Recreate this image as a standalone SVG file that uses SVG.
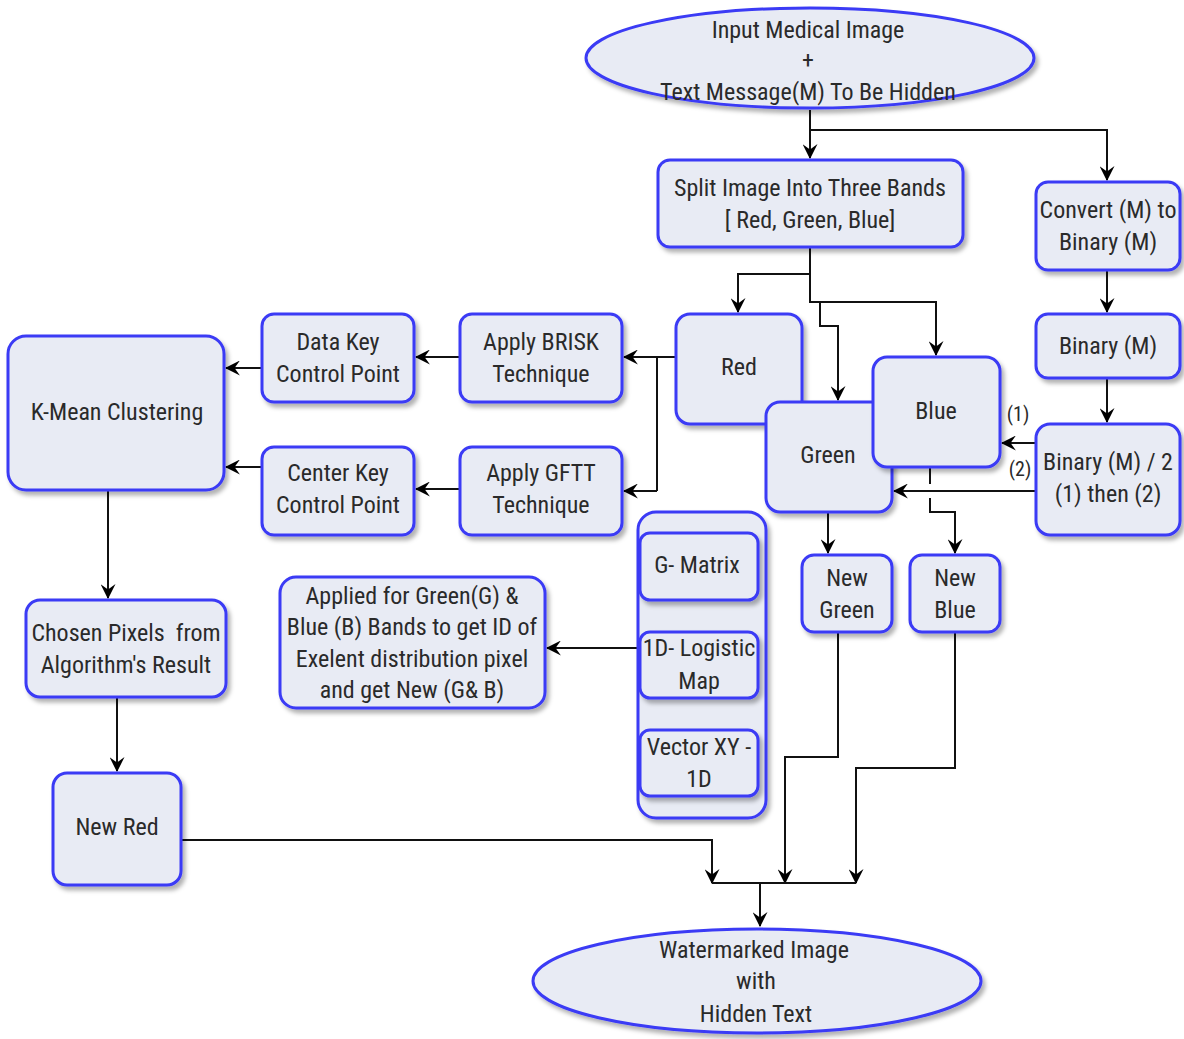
<svg xmlns="http://www.w3.org/2000/svg" width="1184" height="1039" viewBox="0 0 1184 1039">
<defs>
<filter id="sh" x="-10%" y="-10%" width="125%" height="130%">
<feDropShadow dx="3" dy="4" stdDeviation="2" flood-color="#000" flood-opacity="0.3"/>
</filter>
<marker id="ar" viewBox="0 0 14 14" refX="13" refY="7" markerWidth="15" markerHeight="15" markerUnits="userSpaceOnUse" orient="auto">
<path d="M0,0 L14,7 L0,14 L5,7 Z" fill="#000"/>
</marker>
</defs>
<style>
.n{fill:#e8ebf4;stroke:#3a3af5;stroke-width:3;filter:url(#sh)}
.t{font-family:"Liberation Sans Narrow","Arial Narrow","Roboto Condensed","Liberation Sans",sans-serif;font-size:24px;fill:#2a2a2a;text-anchor:middle}
.c{fill:none;stroke:#111;stroke-width:2}
.a{marker-end:url(#ar)}
</style>
<rect width="1184" height="1039" fill="#fff"/>
<g id="connectors">
<path class="c a" d="M810,110 V158"/>
<path class="c a" d="M810,130 H1107 V180"/>
<path class="c a" d="M1107,270 V312"/>
<path class="c a" d="M1107,378 V422"/>
<path class="c a" d="M1036,443 H1002"/>
<path class="c a" d="M1036,491 H894"/>
<path class="c a" d="M810,247 V274 H738 V312"/>
<path class="c a" d="M810,274 V302 H936 V355"/>
<path class="c a" d="M820,302 V326 H838 V400"/>
<path class="c" d="M930,467 V484"/>
<path class="c a" d="M930,498 V512 H955 V553"/>
<path class="c" d="M676,357 H657 V491"/>
<path class="c a" d="M660,357 H624"/>
<path class="c a" d="M657,491 H624"/>
<path class="c a" d="M460,357 H416"/>
<path class="c a" d="M460,489 H416"/>
<path class="c a" d="M262,368 H226"/>
<path class="c a" d="M262,467 H226"/>
<path class="c a" d="M108,490 V598"/>
<path class="c a" d="M117,697 V771"/>
<path class="c a" d="M699,600 V630"/>
<path class="c a" d="M699,698 V728"/>
<path class="c a" d="M640,648 H547"/>
<path class="c a" d="M828,512 V553"/>
<path class="c a" d="M181,840 H712 V883"/>
<path class="c a" d="M838,632 V757 H785 V883"/>
<path class="c a" d="M955,632 V768 H856 V883"/>
<path class="c" d="M712,883 H856"/>
<path class="c a" d="M760,883 V926"/>
</g>
<g id="input">
<ellipse class="n" cx="810" cy="58" rx="224" ry="50"/>
<text class="t" x="808" y="38">Input Medical Image</text>
<text class="t" x="808" y="68">+</text>
<text class="t" x="808" y="100">Text Message(M) To Be Hidden</text>
</g>
<g id="split">
<rect class="n" x="658" y="160" width="305" height="87" rx="12"/>
<text class="t" x="810" y="196">Split Image Into Three Bands</text>
<text class="t" x="810" y="228">[ Red, Green, Blue]</text>
</g>
<g id="convert">
<rect class="n" x="1036" y="182" width="144" height="88" rx="12"/>
<text class="t" x="1108" y="218">Convert (M) to</text>
<text class="t" x="1108" y="250">Binary (M)</text>
</g>
<g id="binary">
<rect class="n" x="1036" y="314" width="144" height="64" rx="12"/>
<text class="t" x="1108" y="354">Binary (M)</text>
</g>
<g id="binary2">
<rect class="n" x="1036" y="424" width="144" height="111" rx="14"/>
<text class="t" x="1108" y="470">Binary (M) / 2</text>
<text class="t" x="1108" y="502">(1) then (2)</text>
</g>
<g id="labels">
<text class="t" x="1018" y="421" style="font-size:20px">(1)</text>
<text class="t" x="1020" y="476" style="font-size:20px">(2)</text>
</g>
<g id="red">
<rect class="n" x="676" y="314" width="126" height="110" rx="14"/>
<text class="t" x="739" y="375">Red</text>
</g>
<g id="green">
<rect class="n" x="766" y="402" width="126" height="110" rx="14"/>
<text class="t" x="828" y="463">Green</text>
</g>
<g id="blue">
<rect class="n" x="873" y="357" width="127" height="110" rx="14"/>
<text class="t" x="936" y="419">Blue</text>
</g>
<g id="brisk">
<rect class="n" x="460" y="314" width="162" height="88" rx="12"/>
<text class="t" x="541" y="350">Apply BRISK</text>
<text class="t" x="541" y="382">Technique</text>
</g>
<g id="gftt">
<rect class="n" x="460" y="447" width="162" height="88" rx="12"/>
<text class="t" x="541" y="481">Apply GFTT</text>
<text class="t" x="541" y="513">Technique</text>
</g>
<g id="datakey">
<rect class="n" x="262" y="314" width="152" height="88" rx="12"/>
<text class="t" x="338" y="350">Data Key</text>
<text class="t" x="338" y="382">Control Point</text>
</g>
<g id="centerkey">
<rect class="n" x="262" y="447" width="152" height="88" rx="12"/>
<text class="t" x="338" y="481">Center Key</text>
<text class="t" x="338" y="513">Control Point</text>
</g>
<g id="kmean">
<rect class="n" x="8" y="336" width="216" height="154" rx="18"/>
<text class="t" x="117" y="420">K-Mean Clustering</text>
</g>
<g id="chosen">
<rect class="n" x="26" y="600" width="200" height="97" rx="14"/>
<text class="t" x="126" y="641">Chosen Pixels &#160;from</text>
<text class="t" x="126" y="673">Algorithm's Result</text>
</g>
<g id="newred">
<rect class="n" x="53" y="773" width="128" height="112" rx="14"/>
<text class="t" x="117" y="835">New Red</text>
</g>
<g id="applied">
<rect class="n" x="280" y="577" width="265" height="131" rx="16"/>
<text class="t" x="412" y="604">Applied for Green(G) &amp;</text>
<text class="t" x="412" y="635">Blue (B) Bands to get ID of</text>
<text class="t" x="412" y="667">Exelent distribution pixel</text>
<text class="t" x="412" y="698">and get New (G&amp; B)</text>
</g>
<g id="container">
<rect class="n" x="638" y="512" width="128" height="306" rx="18"/>
</g>
<g id="gmatrix">
<rect class="n" x="640" y="533" width="118" height="67" rx="10"/>
<text class="t" x="697" y="573">G- Matrix</text>
</g>
<g id="logistic">
<rect class="n" x="640" y="632" width="118" height="66" rx="10"/>
<text class="t" x="699" y="656">1D- Logistic</text>
<text class="t" x="699" y="689">Map</text>
</g>
<g id="vector">
<rect class="n" x="640" y="730" width="118" height="66" rx="10"/>
<text class="t" x="699" y="755">Vector XY -</text>
<text class="t" x="699" y="787">1D</text>
</g>
<g id="newgreen">
<rect class="n" x="802" y="555" width="90" height="77" rx="12"/>
<text class="t" x="847" y="586">New</text>
<text class="t" x="847" y="618">Green</text>
</g>
<g id="newblue">
<rect class="n" x="910" y="555" width="90" height="77" rx="12"/>
<text class="t" x="955" y="586">New</text>
<text class="t" x="955" y="618">Blue</text>
</g>
<g id="output">
<ellipse class="n" cx="757" cy="981" rx="224" ry="52"/>
<text class="t" x="754" y="958">Watermarked Image</text>
<text class="t" x="756" y="989">with</text>
<text class="t" x="756" y="1022">Hidden Text</text>
</g>
</svg>
